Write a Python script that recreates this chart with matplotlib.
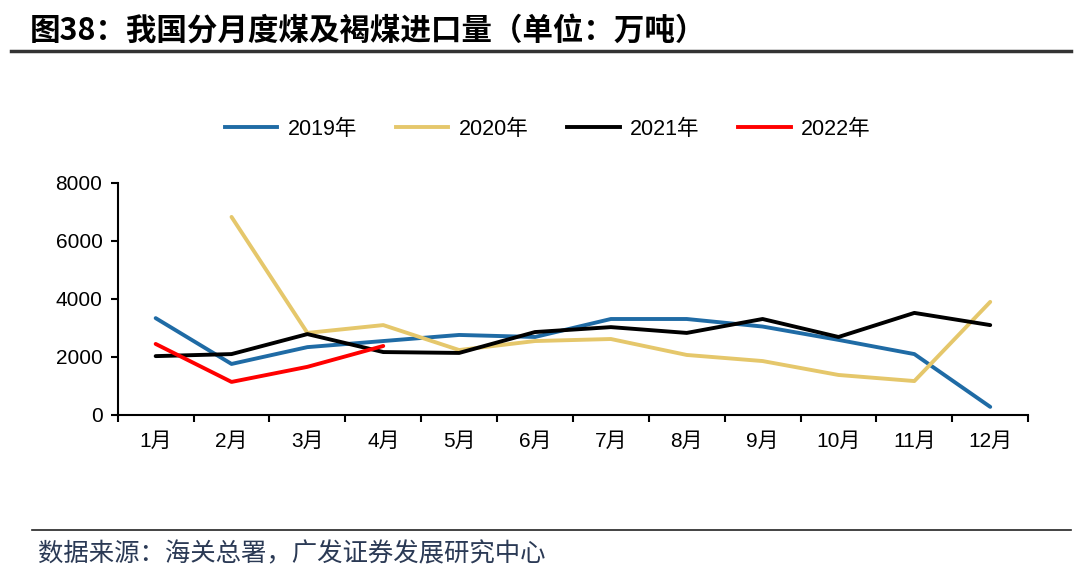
import numpy as np
import matplotlib
matplotlib.use("Agg")
import matplotlib.pyplot as plt
from matplotlib.lines import Line2D

plt.rcParams['font.family'] = ['Liberation Sans', 'Noto Sans CJK SC', 'DejaVu Sans']

months = ["1月", "2月", "3月", "4月", "5月", "6月", "7月", "8月", "9月", "10月", "11月", "12月"]
y2019 = [3340, 1760, 2340, 2550, 2760, 2690, 3310, 3310, 3050, 2590, 2100, 280]
y2020 = [None, 6830, 2830, 3100, 2240, 2550, 2620, 2070, 1860, 1380, 1170, 3900]
y2021 = [2030, 2100, 2790, 2170, 2140, 2860, 3030, 2830, 3310, 2690, 3520, 3100]
y2022 = [2450, 1140, 1660, 2380]
series_names = ["2019年", "2020年", "2021年", "2022年"]
colors = ["#1F6BA5", "#E5C76B", "#000000", "#FF0000"]

fig = plt.figure(figsize=(10.8, 5.8), dpi=100)
ax = fig.add_axes([0.109, 0.2845, 0.843, 0.40])

x = np.arange(len(months))
for vals, name, c in zip([y2019, y2020, y2021, y2022], series_names, colors):
    v = np.array([np.nan if a is None else a for a in vals], dtype=float)
    ax.plot(x[:len(v)], v, color=c, lw=2.8, label=name, solid_capstyle="round")

ax.set_xlim(-0.5, 11.5)
ax.set_ylim(0, 8000)
ax.set_yticks([0, 2000, 4000, 6000, 8000])
ax.set_xticks(np.arange(-0.5, 12, 1))
ax.set_xticklabels([])
ax.set_xticks(x, minor=True)
ax.set_xticklabels(months, minor=True, fontsize=15)
ax.tick_params(axis="x", which="major", direction="out", length=5, width=1.5)
ax.tick_params(axis="x", which="minor", length=0, pad=12)
ax.tick_params(axis="y", direction="out", length=5, width=1.5, labelsize=15, pad=6)
for s in ["top", "right"]:
    ax.spines[s].set_visible(False)
for s in ["left", "bottom"]:
    ax.spines[s].set_linewidth(1.5)

handles = [Line2D([0], [0], color=c, lw=2.8) for c in colors]
fig.legend(handles, series_names, loc="center", bbox_to_anchor=(0.507, 0.777),
           ncol=4, frameon=False, fontsize=15.5, handlelength=2.45,
           columnspacing=1.8, handletextpad=0.47)

fig.text(0.028, 0.947, "图38：我国分月度煤及褐煤进口量（单位：万吨）",
         fontsize=22, fontweight="bold", family=["Noto Sans CJK SC", "DejaVu Sans"],
         va="center", ha="left")
fig.add_artist(Line2D([0.01, 0.992], [0.912, 0.912], color="#333333", lw=2.5))
fig.add_artist(Line2D([0.03, 0.992], [0.087, 0.087], color="#222222", lw=1.2))
fig.text(0.035, 0.045, "数据来源：海关总署，广发证券发展研究中心",
         fontsize=18.3, color="#2B3A55", family=["Noto Sans CJK SC", "DejaVu Sans"],
         va="center", ha="left")

fig.savefig("out.png", dpi=100)
